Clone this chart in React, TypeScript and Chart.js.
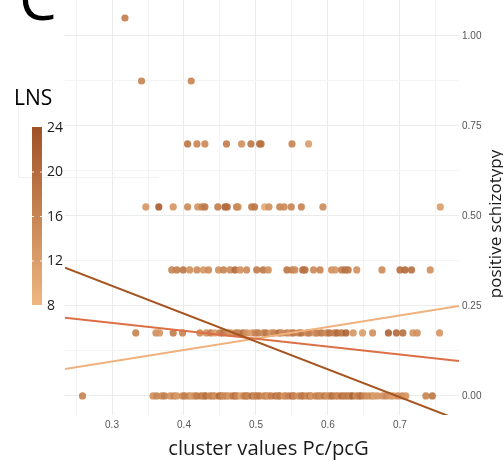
import React, { useEffect, useRef } from "react";
import { Chart, registerables } from "chart.js";

Chart.register(...registerables);

// ---- data ----
const xTickVals = [0.25, 0.3, 0.35, 0.4, 0.45, 0.5, 0.55, 0.6, 0.65, 0.7, 0.75];
const yTickVals = [0, 0.125, 0.25, 0.375, 0.5, 0.625, 0.75, 0.875, 1.0];
const legendTicks = [24, 20, 16, 12, 8];

const rowLevels = [0, 0.175, 0.35, 0.525, 0.7, 0.875, 1.05];

const row0X = [0.259, 0.357, 0.362, 0.369, 0.373, 0.381, 0.386, 0.390, 0.398, 0.401, 0.407, 0.411, 0.415, 0.418, 0.424, 0.428, 0.430, 0.436, 0.440, 0.443, 0.449, 0.452, 0.455, 0.459, 0.463, 0.468, 0.471, 0.474, 0.479, 0.483, 0.486, 0.489, 0.495, 0.498, 0.501, 0.505, 0.511, 0.514, 0.517, 0.521, 0.527, 0.531, 0.533, 0.539, 0.541, 0.546, 0.551, 0.553, 0.559, 0.563, 0.566, 0.571, 0.575, 0.577, 0.583, 0.587, 0.590, 0.595, 0.599, 0.603, 0.606, 0.611, 0.614, 0.619, 0.623, 0.627, 0.631, 0.634, 0.639, 0.643, 0.646, 0.651, 0.656, 0.661, 0.664, 0.669, 0.676, 0.681, 0.687, 0.691, 0.697, 0.703, 0.708, 0.736, 0.745];
const row0L = [16, 14, 16, 15, 17, 14, 16, 13, 15, 17, 16, 12, 14, 17, 18, 15, 19, 16, 17, 14, 20, 18, 15, 16, 13, 17, 19, 16, 11, 15, 18, 16, 20, 14, 17, 18, 15, 16, 13, 17, 19, 16, 18, 12, 15, 17, 21, 16, 14, 17, 18, 15, 19, 13, 16, 17, 15, 18, 14, 16, 19, 17, 15, 20, 17, 18, 16, 21, 15, 17, 19, 16, 14, 15, 12, 13, 14, 15, 13, 12, 14, 15, 13, 16, 18];

const row1X = [0.333, 0.361, 0.366, 0.385, 0.398, 0.422, 0.431, 0.437, 0.443, 0.450, 0.454, 0.461, 0.465, 0.472, 0.476, 0.482, 0.487, 0.494, 0.499, 0.503, 0.510, 0.514, 0.521, 0.525, 0.532, 0.536, 0.543, 0.548, 0.552, 0.559, 0.563, 0.571, 0.574, 0.582, 0.585, 0.591, 0.598, 0.602, 0.609, 0.613, 0.619, 0.625, 0.635, 0.648, 0.662, 0.684, 0.695, 0.704, 0.718, 0.724, 0.755];
const row1L = [16, 14, 13, 17, 16, 15, 14, 17, 12, 16, 18, 15, 13, 17, 16, 19, 14, 12, 16, 17, 15, 18, 13, 16, 20, 15, 17, 14, 18, 16, 19, 15, 17, 14, 16, 18, 15, 19, 17, 20, 18, 21, 13, 12, 14, 21, 20, 19, 13, 14, 13];

const row2X = [0.383, 0.390, 0.399, 0.408, 0.418, 0.427, 0.434, 0.448, 0.455, 0.464, 0.471, 0.478, 0.487, 0.501, 0.510, 0.517, 0.543, 0.550, 0.554, 0.565, 0.568, 0.580, 0.589, 0.605, 0.610, 0.619, 0.624, 0.628, 0.640, 0.675, 0.700, 0.707, 0.716, 0.742];
const row2L = [16, 17, 18, 14, 15, 13, 15, 14, 16, 15, 20, 14, 15, 17, 18, 14, 18, 17, 15, 20, 19, 15, 16, 14, 13, 17, 19, 18, 14, 15, 19, 20, 19, 14];

const row3X = [0.347, 0.365, 0.385, 0.405, 0.419, 0.425, 0.429, 0.447, 0.457, 0.460, 0.473, 0.475, 0.494, 0.498, 0.512, 0.518, 0.533, 0.539, 0.549, 0.563, 0.593, 0.756];
const row3L = [13, 22, 13, 15, 13, 16, 18, 17, 21, 20, 16, 15, 17, 18, 10, 14, 16, 15, 16, 16, 15, 12];

const row4X = [0.405, 0.418, 0.429, 0.459, 0.480, 0.493, 0.505, 0.507, 0.550, 0.573];
const row4L = [18, 16, 15, 17, 14, 18, 19, 19, 16, 12];

const row5X = [0.341, 0.410];
const row5L = [16, 16];

const row6X = [0.318];
const row6L = [17];

const lineX = [0.2347, 0.782];
const darkLineY = [0.356, -0.067];
const midLineY = [0.217, 0.097];
const lightLineY = [0.075, 0.25];

// ---- helpers ----
const LOW = [238, 183, 129];
const HIGH = [160, 82, 38];
function lnsColor(v: number, a = 0.92) {
  const t = Math.max(0, Math.min(1, (v - 8) / 16));
  const c = LOW.map((lo, i) => Math.round(lo + (HIGH[i] - lo) * t));
  return `rgba(${c[0]},${c[1]},${c[2]},${a})`;
}

const rowsX = [row0X, row1X, row2X, row3X, row4X, row5X, row6X];
const rowsL = [row0L, row1L, row2L, row3L, row4L, row5L, row6L];

const X_MIN = 0.2347;
const X_MAX = 0.782;
const Y_MIN = -0.053;
const Y_MAX = 1.1;

const overlay = {
  id: "overlay",
  afterDraw(chart: any) {
    const ctx = chart.ctx;
    ctx.save();
    ctx.fillStyle = "#000";
    ctx.font = "60px 'Open Sans'";
    ctx.textBaseline = "alphabetic";
    ctx.textAlign = "left";
    ctx.fillText("C", 19, 20);

    ctx.strokeStyle = "#f0f0f0";
    ctx.lineWidth = 1;
    ctx.beginPath();
    ctx.moveTo(18.5, 100);
    ctx.lineTo(18.5, 177.5);
    ctx.lineTo(158.5, 177.5);
    ctx.stroke();

    ctx.fillStyle = "#000";
    ctx.font = "21px 'Open Sans'";
    ctx.fillText("LNS", 14, 105);

    const top = 127, bottom = 305, left = 32, w = 10;
    const g = ctx.createLinearGradient(0, bottom, 0, top);
    g.addColorStop(0, lnsColor(8, 1));
    g.addColorStop(1, lnsColor(24, 1));
    ctx.fillStyle = g;
    ctx.fillRect(left, top, w, bottom - top);
    ctx.font = "14px 'Open Sans'";
    ctx.textBaseline = "middle";
    legendTicks.forEach((v) => {
      const y = bottom - ((v - 8) / 16) * (bottom - top);
      ctx.fillStyle = "#1a1a1a";
      ctx.fillText(String(v), 47, y + 1);
      if (v !== 24 && v !== 8) {
        ctx.strokeStyle = "rgba(255,255,255,0.9)";
        ctx.beginPath();
        ctx.moveTo(left, y + 0.5);
        ctx.lineTo(left + 2, y + 0.5);
        ctx.moveTo(left + w - 2, y + 0.5);
        ctx.lineTo(left + w, y + 0.5);
        ctx.stroke();
      }
    });

    ctx.fillStyle = "#1a1a1a";
    ctx.font = "20.3px 'Open Sans'";
    ctx.textAlign = "center";
    ctx.textBaseline = "middle";
    ctx.fillText("cluster values Pc/pcG", 268.5, 449);
    ctx.font = "17px 'Open Sans'";
    ctx.save();
    ctx.translate(496, 224);
    ctx.rotate(-Math.PI / 2);
    ctx.fillText("positive schizotypy", 0, 0);
    ctx.restore();
    ctx.restore();
  },
};

export default function App() {
  const ref = useRef<HTMLCanvasElement>(null);
  useEffect(() => {
    if (!ref.current) return;
    const pointsData: any[] = [];
    const pointsColors: string[] = [];
    rowsX.forEach((xs, r) => {
      xs.forEach((x, i) => {
        pointsData.push({ x, y: rowLevels[r] });
        pointsColors.push(lnsColor(rowsL[r][i]));
      });
    });
    const mk = (ys: number[]) => lineX.map((x, i) => ({ x, y: ys[i] }));
    const isMajorY = (v: number) => Math.abs(v * 4 - Math.round(v * 4)) < 1e-6;
    const isMajorX = (v: number) => Math.abs(v * 10 - Math.round(v * 10)) < 1e-6;
    const chart = new Chart(ref.current, {
      type: "scatter",
      data: {
        datasets: [
          { type: "line", data: mk(darkLineY), borderColor: "#A5541F", borderWidth: 2, pointRadius: 0, order: 0 } as any,
          { type: "line", data: mk(midLineY), borderColor: "#DC6F45", borderWidth: 2, pointRadius: 0, order: 1 } as any,
          { type: "line", data: mk(lightLineY), borderColor: "#EFB27E", borderWidth: 2, pointRadius: 0, order: 2 } as any,
          {
            data: pointsData,
            backgroundColor: pointsColors,
            borderWidth: 0,
            pointRadius: 3.6,
            order: 3,
          },
        ],
      },
      options: {
        animation: false,
        responsive: false,
        events: [],
        layout: { autoPadding: false, padding: { left: 65, top: 0, right: 0, bottom: 0 } },
        plugins: { legend: { display: false }, tooltip: { enabled: false } },
        scales: {
          x: {
            type: "linear",
            min: X_MIN,
            max: X_MAX,
            afterBuildTicks: (s: any) => {
              s.ticks = xTickVals.map((v) => ({ value: v }));
            },
            afterFit: (s: any) => {
              s.height = 47;
              s.paddingLeft = 0;
              s.paddingRight = 0;
            },
            border: { display: false },
            grid: {
              drawTicks: false,
              color: (c: any) => (c.tick && isMajorX(c.tick.value) ? "#EBEBEB" : "#F4F4F4"),
              lineWidth: 1,
            },
            ticks: {
              padding: 4,
              autoSkip: false,
              maxRotation: 0,
              color: "#555",
              font: { size: 10, family: "'Liberation Sans'" },
              callback: (v: any) => (isMajorX(Number(v)) ? Number(v).toFixed(1) : ""),
            },
          },
          y: {
            type: "linear",
            position: "right",
            min: Y_MIN,
            max: Y_MAX,
            afterBuildTicks: (s: any) => {
              s.ticks = yTickVals.map((v) => ({ value: v }));
            },
            afterFit: (s: any) => {
              s.width = 44;
              s.paddingTop = 0;
              s.paddingBottom = 0;
            },
            border: { display: false },
            grid: {
              drawTicks: false,
              color: (c: any) => (c.tick && isMajorY(c.tick.value) ? "#EBEBEB" : "#F4F4F4"),
              lineWidth: 1,
            },
            ticks: {
              padding: 3,
              autoSkip: false,
              color: "#555",
              font: { size: 10, family: "'Liberation Sans'" },
              callback: (v: any) => (isMajorY(Number(v)) ? Number(v).toFixed(2) : ""),
            },
          },
        },
      },
      plugins: [overlay],
    } as any);
    return () => chart.destroy();
  }, []);
  return (
    <div style={{ position: "fixed", left: 0, top: 0, width: 503, height: 462, background: "#fff" }}>
      <canvas ref={ref} width={503} height={462} />
    </div>
  );
}
